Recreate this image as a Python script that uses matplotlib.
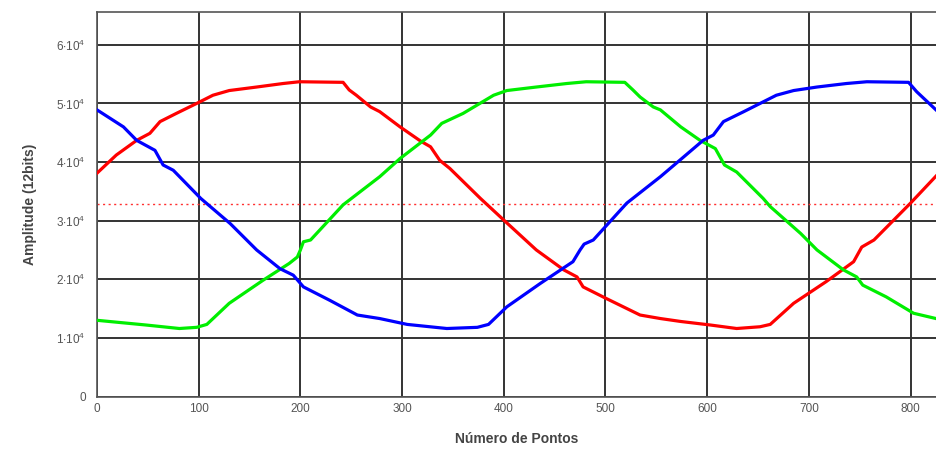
import matplotlib
matplotlib.use("Agg")
import matplotlib.pyplot as plt
from matplotlib import font_manager

# ---- data ----
red_x = [0, 19, 39, 52, 62, 78, 98, 114, 130, 157, 183, 199, 242, 248, 255, 269, 278, 298, 318, 328,
         337, 347, 377, 400, 432, 459, 472, 478, 501, 534, 554, 574, 603, 629, 652, 662, 685, 717,
         744, 752, 764, 800, 825]
red_y = [38100, 41200, 43700, 44900, 46900, 48300, 50000, 51400, 52200, 52800, 53400, 53700, 53600,
         52300, 51400, 49400, 48600, 46000, 43600, 42600, 40300, 38900, 33800, 30100, 25000, 21600,
         20400, 18700, 16700, 13900, 13300, 12800, 12200, 11600, 11900, 12300, 15900, 19600,
         23000, 25500, 26700, 33000, 37600]

green_x = [0, 48, 81, 98, 108, 130, 163, 189, 197, 200, 203, 210, 242, 278, 298, 328, 339, 360, 390,
           403, 432, 462, 481, 519, 527, 534, 547, 554, 574, 593, 608, 617, 629, 655, 662, 692, 708,
           734, 747, 753, 776, 803, 825]
green_y = [13000, 12200, 11600, 11800, 12300, 15900, 19800, 22700, 23800, 25000, 26400, 26700, 32700,
           37500, 40600, 44600, 46600, 48300, 51400, 52200, 52800, 53400, 53700, 53600, 52300, 51100,
           49400, 48900, 46000, 43700, 42300, 39500, 38300, 33800, 32400, 27800, 25000, 21600, 20400,
           19000, 17000, 14200, 13300]

blue_x = [0, 26, 39, 57, 65, 75, 102, 131, 157, 180, 193, 203, 229, 256, 278, 305, 344, 374, 385, 403,
          436, 468, 475, 479, 488, 521, 554, 573, 596, 606, 616, 636, 668, 685, 708, 737, 757, 798,
          806, 825]
blue_y = [48900, 46000, 43700, 42000, 39500, 38600, 33800, 29500, 25000, 21800, 20700, 18700, 16400,
          13900, 13300, 12300, 11600, 11800, 12300, 15300, 19300, 23000, 25000, 26000, 26700, 33000,
          37500, 40300, 43700, 44600, 46900, 48600, 51400, 52200, 52800, 53400, 53700, 53600, 52000,
          48900]

ref_level = 32768
x_ticks = [0, 100, 200, 300, 400, 500, 600, 700, 800]
y_ticks = [0, 10000, 20000, 30000, 40000, 50000, 60000]
y_tick_labels = ["0", r"$1{\cdot}10^4$", r"$2{\cdot}10^4$", r"$3{\cdot}10^4$",
                 r"$4{\cdot}10^4$", r"$5{\cdot}10^4$", r"$6{\cdot}10^4$"]

# ---- fonts ----
avail = {f.name for f in font_manager.fontManager.ttflist}
if "Liberation Sans Narrow" in avail:
    base = "Liberation Sans Narrow"
elif "Liberation Sans" in avail:
    base = "Liberation Sans"
else:
    base = "DejaVu Sans"
plt.rcParams["font.family"] = [base, "DejaVu Sans"]
plt.rcParams["mathtext.fontset"] = "custom"
plt.rcParams["mathtext.rm"] = base
plt.rcParams["mathtext.it"] = base

fig = plt.figure(figsize=(9.36, 4.5), dpi=100)
ax = fig.add_axes([97 / 936, 1 - 396.5 / 450, 1 - 97 / 936, (396.5 - 12) / 450])

ax.set_xlim(0, 825)
ax.set_ylim(0, 65600)
ax.set_xticks(x_ticks)
ax.set_xticklabels([str(v) for v in x_ticks])
ax.set_yticks(y_ticks)
ax.set_yticklabels(y_tick_labels)

ax.grid(True, color="#333333", linewidth=1.4)
ax.set_axisbelow(True)
for s in ["left", "bottom", "top"]:
    ax.spines[s].set_color("#555555")
    ax.spines[s].set_linewidth(1.2)
ax.spines["right"].set_visible(False)
ax.tick_params(length=0, labelsize=8.5, labelcolor="#555555", pad=8)
ax.tick_params(axis="x", pad=5)

ax.axhline(ref_level, color="#ff3030", linestyle=(0, (1.5, 2.5)), linewidth=1.0, zorder=2)
ax.plot(red_x, red_y, color="#ff0000", linewidth=2.3, zorder=3)
ax.plot(green_x, green_y, color="#00ee00", linewidth=2.3, zorder=3)
ax.plot(blue_x, blue_y, color="#0000ff", linewidth=2.3, zorder=3)

ax.set_xlabel("Número de Pontos", fontsize=10, fontweight="bold", color="#444444", labelpad=12)
ax.set_ylabel("Amplitude (12bits)", fontsize=10, fontweight="bold", color="#444444", labelpad=14)

fig.savefig("out.png", dpi=100, facecolor="white")
